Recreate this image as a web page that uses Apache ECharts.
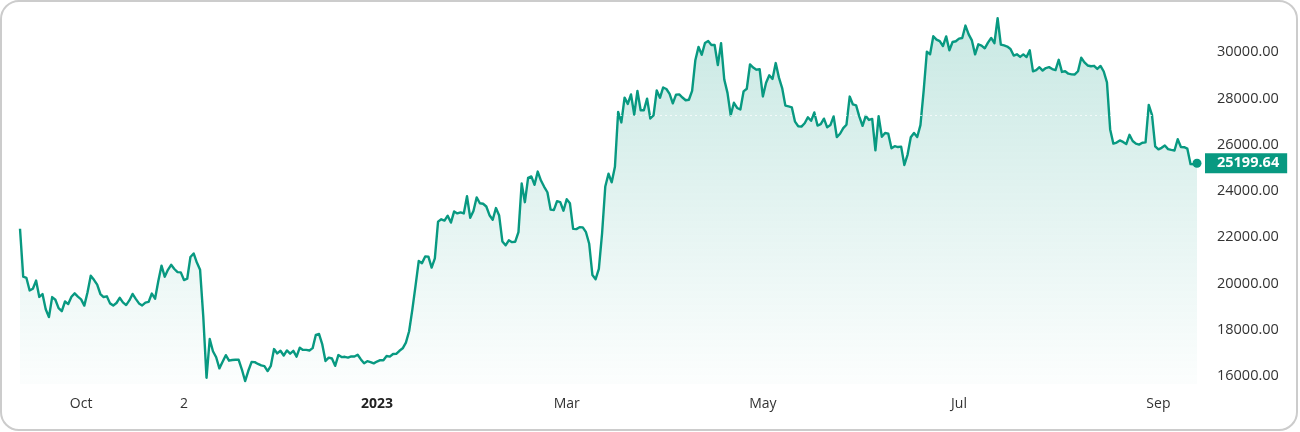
<!DOCTYPE html>
<html><head><meta charset="utf-8">
<script src="https://cdn.jsdelivr.net/npm/echarts@6/dist/echarts.min.js"></script>
<style>html,body{margin:0;padding:0;background:#fff;}#c{width:1300px;height:432px;}</style>
</head><body><div id="c"></div>
<script>
// Daily closing prices
const sep2022 = [22370, 20296, 20241, 19701, 19772, 20127, 19419, 19544, 18890, 18547, 19413, 19297, 18937, 18802, 19222, 19110, 19426, 19573, 19431];
const oct2022 = [19312, 19044, 19623, 20336, 20160, 19955, 19546, 19416, 19446, 19141, 19051, 19157, 19382, 19185, 19067, 19268, 19550, 19334, 19139, 19053, 19172, 19208, 19567, 19345, 20095, 20771, 20295, 20591, 20810, 20627, 20491];
const nov2022 = [20483, 20151, 20207, 21148, 21300, 20905, 20591, 18547, 15922, 17601, 17070, 16812, 16330, 16620, 16900, 16663, 16692, 16700, 16700, 16280, 15782, 16226, 16603, 16599, 16522, 16458, 16428, 16213, 16442, 17164];
const dec2022 = [16977, 17092, 16885, 17105, 16967, 17089, 16837, 17224, 17128, 17128, 17104, 17206, 17782, 17815, 17364, 16647, 16796, 16757, 16439, 16906, 16818, 16830, 16796, 16847, 16841, 16919, 16717, 16552, 16642, 16603, 16548];
const jan2023 = [16625, 16688, 16680, 16863, 16836, 16951, 16955, 17091, 17197, 17446, 17934, 18869, 19910, 20976, 20881, 21169, 21161, 20688, 21086, 22676, 22777, 22720, 22934, 22636, 23117, 23032, 23078, 23031, 23774, 22840, 23139];
const feb2023 = [23723, 23471, 23449, 23331, 22955, 22760, 23264, 22939, 21819, 21651, 21870, 21788, 21808, 22220, 24327, 23517, 24569, 24631, 24271, 24842, 24452, 24183, 23947, 23198, 23175, 23561, 23523, 23147];
const mar2023 = [23646, 23475, 22362, 22353, 22435, 22429, 22219, 21718, 20363, 20187, 20632, 22163, 24197, 24746, 24375, 25052, 27423, 26965, 28038, 27767, 28175, 27307, 28333, 27493, 27494, 27994, 27139, 27268, 28348, 28033, 28478];
const apr2023 = [28411, 28199, 27790, 28168, 28177, 28044, 27925, 27947, 28333, 29653, 30235, 29892, 30400, 30485, 30318, 30315, 29445, 30397, 28822, 28245, 27276, 27817, 27591, 27525, 28307, 28422, 29473, 29340, 29248, 29268];
const may2023 = [28091, 28680, 29006, 28847, 29534, 28904, 28454, 27694, 27658, 27621, 27000, 26804, 26784, 26930, 27192, 27036, 27398, 26832, 26890, 27130, 26753, 26851, 27226, 26334, 26476, 26719, 26868, 28085, 27745, 27702, 27219];
const jun2023 = [26819, 27249, 27075, 27119, 25760, 27238, 26345, 26508, 26480, 25851, 25940, 25902, 25919, 25125, 25576, 26327, 26510, 26336, 26851, 28327, 30027, 29912, 30695, 30548, 30480, 30271, 30689, 30086, 30445, 30477];
const jul2023 = [30590, 30620, 31156, 30777, 30514, 29910, 30346, 30292, 30171, 30415, 30621, 30392, 31476, 30335, 30295, 30249, 30146, 29857, 29914, 29800, 29909, 29793, 30084, 29177, 29228, 29354, 29210, 29319, 29357, 29275, 29230];
const aug2023 = [29675, 29151, 29179, 29075, 29043, 29041, 29180, 29765, 29561, 29429, 29397, 29415, 29282, 29408, 29170, 28701, 26664, 26049, 26096, 26189, 26124, 26031, 26431, 26163, 26047, 26008, 26089, 26106, 27727, 27297, 25931];
const sep2023 = [25800, 25869, 25969, 25812, 25779, 25753, 26240, 25905, 25895, 25832, 25162, 25160, 25199.64];

const xTickLabels = {'2022-10-01':'Oct','2022-11-02':'2','2023-01-01':'2023','2023-03-01':'Mar','2023-05-01':'May','2023-07-01':'Jul','2023-09-01':'Sep'};
const yTicks = [16000, 18000, 20000, 22000, 24000, 26000, 28000, 30000];
const lastPrice = 25199.64;
const refLevel = 27280;

const months = [
  ['2022-09', 12, sep2022], ['2022-10', 1, oct2022], ['2022-11', 1, nov2022], ['2022-12', 1, dec2022],
  ['2023-01', 1, jan2023], ['2023-02', 1, feb2023], ['2023-03', 1, mar2023], ['2023-04', 1, apr2023],
  ['2023-05', 1, may2023], ['2023-06', 1, jun2023], ['2023-07', 1, jul2023], ['2023-08', 1, aug2023],
  ['2023-09', 1, sep2023]
];
const dates = [], values = [];
months.forEach(([ym, d0, arr]) => arr.forEach((v, i) => {
  dates.push(ym + '-' + String(d0 + i).padStart(2, '0'));
  values.push(v);
}));

const FONT = '"Open Sans", Roboto, sans-serif';
const GREEN = '#089981';
const Y_MIN = 15654, Y_MAX = 31829;

const chart = echarts.init(document.getElementById('c'), null, {renderer: 'canvas'});
chart.setOption({
  animation: false,
  grid: {left: 20, right: 103, top: 10, bottom: 48},
  xAxis: {
    type: 'category', data: dates, boundaryGap: false,
    axisLine: {show: false}, axisTick: {show: false}, splitLine: {show: false},
    axisLabel: {
      interval: (i, v) => Object.prototype.hasOwnProperty.call(xTickLabels, v),
      formatter: v => v === '2023-01-01' ? '{b|2023}' : xTickLabels[v],
      color: '#333', fontSize: 14, fontFamily: FONT, margin: 13,
      rich: {b: {fontWeight: 'bold', fontSize: 14, color: '#222', fontFamily: FONT}}
    }
  },
  yAxis: [
    {
      type: 'value', position: 'right', min: Y_MIN, max: Y_MAX,
      axisLine: {show: false}, axisTick: {show: false}, splitLine: {show: false},
      axisLabel: {customValues: yTicks, formatter: v => Number(v).toFixed(2), color: '#333', fontSize: 14.5, fontFamily: FONT, margin: 20}
    },
    {
      type: 'value', position: 'right', min: Y_MIN, max: Y_MAX,
      axisLine: {show: false}, axisTick: {show: false}, splitLine: {show: false},
      axisLabel: {customValues: [lastPrice], formatter: v => Number(v).toFixed(2), color: '#fff', fontWeight: 'bold',
        backgroundColor: GREEN, padding: [3, 8, 3, 12], lineHeight: 14, fontSize: 14.5, fontFamily: FONT, margin: 8}
    }
  ],
  series: [{
    type: 'line', data: values, showSymbol: false, symbol: 'none',
    lineStyle: {color: GREEN, width: 2.4, join: 'round'},
    areaStyle: {
      color: new echarts.graphic.LinearGradient(0, 10, 0, 382, [
        {offset: 0, color: 'rgba(8,153,129,0.32)'},
        {offset: 0.5, color: 'rgba(8,153,129,0.17)'},
        {offset: 1, color: 'rgba(8,153,129,0.02)'}
      ], true)
    },
    markPoint: {
      silent: true, symbol: 'circle', symbolSize: 9,
      itemStyle: {color: GREEN},
      label: {show: false},
      data: [{coord: [dates.length - 1, lastPrice]}]
    },
    markLine: {
      silent: true, symbol: ['none', 'none'],
      lineStyle: {color: 'rgba(255,255,255,0.7)', type: [2, 3], width: 1},
      label: {show: false},
      data: [{yAxis: refLevel}]
    }
  }],
  graphic: [{
    type: 'rect', z: 100, silent: true,
    shape: {x: 1, y: 1, width: 1296, height: 429, r: 18},
    style: {fill: 'none', stroke: '#cccccc', lineWidth: 2}
  }]
});
</script></body></html>
